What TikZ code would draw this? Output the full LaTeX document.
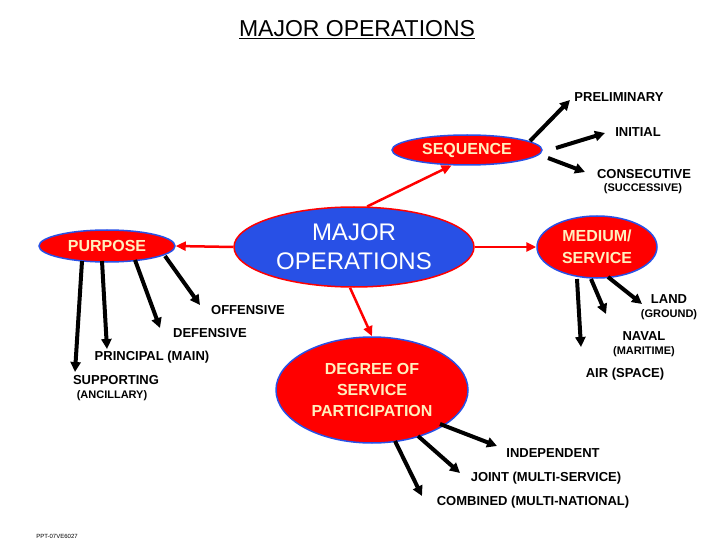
\documentclass[tikz,border=0pt]{standalone}
\usepackage{fontspec}
\setmainfont{Liberation Sans}
\usetikzlibrary{shapes.geometric,arrows.meta}
\definecolor{cream}{RGB}{255,240,190}
\definecolor{mopblue}{RGB}{40,80,230}
\tikzset{
  redoval/.style={ellipse, draw=mopblue, line width=1.5pt, fill=red, text=cream, font=\bfseries\fontsize{16}{18}\selectfont, align=center, inner sep=0pt},
  redarrow/.style={red, line width=2.5pt, -{Triangle[length=10pt,width=9pt]}},
  blkarrow/.style={black, line width=4pt, -{Triangle[length=10pt,width=10pt]}},
  lbl/.style={font=\bfseries\fontsize{13}{15}\selectfont, inner sep=1pt},
  sublbl/.style={font=\bfseries\fontsize{11}{12}\selectfont, inner sep=1pt}
}
\begin{document}
\begin{tikzpicture}[x=1pt,y=-1pt]
  \useasboundingbox (0,0) rectangle (720,540);
  \node[font=\fontsize{23}{26}\selectfont] (title) at (357,30) {\underline{MAJOR OPERATIONS}};
  % central and outer ovals
  \node[ellipse, draw=red, line width=1.5pt, fill=mopblue, text=white, minimum width=240, minimum height=80, align=center, font=\fontsize{24}{29}\selectfont, inner sep=0pt] (mop) at (354,247) {MAJOR\\OPERATIONS};
  \node[redoval, minimum width=150, minimum height=30] (seq) at (467,150) {SEQUENCE};
  \node[redoval, minimum width=120, minimum height=62, font=\bfseries\fontsize{16}{22}\selectfont] (med) at (597,247) {MEDIUM/\\SERVICE};
  \node[redoval, minimum width=136, minimum height=32] (pur) at (107,246) {PURPOSE};
  \node[redoval, minimum width=192, minimum height=106, font=\bfseries\fontsize{16}{21}\selectfont] (deg) at (372,390) {DEGREE OF\\SERVICE\\PARTICIPATION};
  % labels
  \node[lbl] (prel) at (619,97) {PRELIMINARY};
  \node[lbl] (init) at (638,132) {INITIAL};
  \node[lbl] (cons) at (644,174) {CONSECUTIVE};
  \node[sublbl] (succ) at (643,189) {(SUCCESSIVE)};
  \node[lbl] (off) at (248,310) {OFFENSIVE};
  \node[lbl] (def) at (210,333) {DEFENSIVE};
  \node[lbl] (prin) at (152,357) {PRINCIPAL (MAIN)};
  \node[lbl] (supp) at (116,380) {SUPPORTING};
  \node[sublbl] (anc) at (112,396) {(ANCILLARY)};
  \node[lbl] (land) at (669,299) {LAND};
  \node[sublbl] (grd) at (669,315) {(GROUND)};
  \node[lbl] (nav) at (644,336) {NAVAL};
  \node[sublbl] (mar) at (644,352) {(MARITIME)};
  \node[lbl] (air) at (625,374) {AIR (SPACE)};
  \node[lbl] (ind) at (553,453) {INDEPENDENT};
  \node[lbl] (joint) at (546,478) {JOINT (MULTI-SERVICE)};
  \node[lbl] (comb) at (533,502) {COMBINED (MULTI-NATIONAL)};
  \node[font=\fontsize{6}{7}\selectfont] (ref) at (57,536) {PPT-07VE6027};
  % red connectors
  \draw[redarrow] (mop.72) -- (seq.225);
  \draw[redarrow] (mop.west) -- (pur.east);
  \draw[redarrow] (mop.east) -- (med.west);
  \draw[redarrow] (mop.south) ++(-4,0) -- (deg.north);
  % black connectors
  \coordinate (p1) at (570,100);
  \coordinate (p2) at (605,133);
  \coordinate (p3) at (585,172);
  \draw[blkarrow] (530,141) -- (p1);
  \draw[blkarrow] (556,148) -- (p2);
  \draw[blkarrow] (548,158) -- (p3);
  \coordinate (q1) at (200,305);
  \coordinate (q2) at (160,328);
  \coordinate (q3) at (107,349);
  \coordinate (q4) at (75,372);
  \draw[blkarrow] (165,256) -- (q1);
  \draw[blkarrow] (135,260) -- (q2);
  \draw[blkarrow] (102,261) -- (q3);
  \draw[blkarrow] (82,261) -- (q4) ;
  \coordinate (r1) at (642,304);
  \coordinate (r2) at (606,314);
  \coordinate (r3) at (581,347);
  \draw[blkarrow] (608,277) -- (r1);
  \draw[blkarrow] (591,279) -- (r2);
  \draw[blkarrow] (577,279) -- (r3);
  \coordinate (s1) at (497,446);
  \coordinate (s2) at (460,473);
  \coordinate (s3) at (422,496);
  \draw[blkarrow] (440,424) -- (s1);
  \draw[blkarrow] (418,436) -- (s2);
  \draw[blkarrow] (395,441) -- (s3);
\end{tikzpicture}
\end{document}
